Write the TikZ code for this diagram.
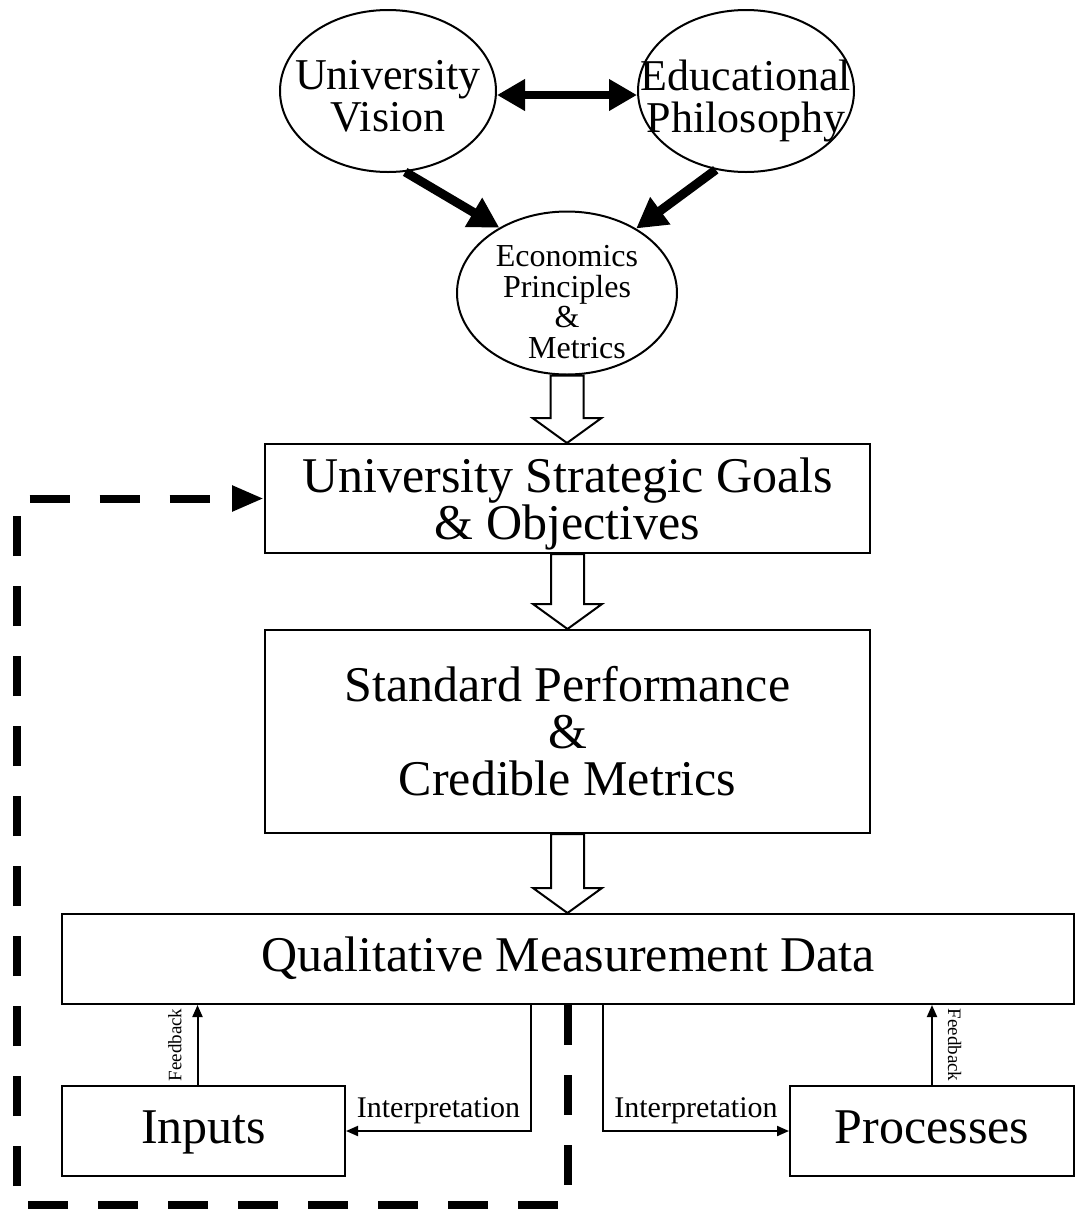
\documentclass[tikz,border=0pt]{standalone}
\usepackage{fontspec}
\setmainfont{Liberation Serif}
\usetikzlibrary{shapes.geometric,arrows.meta,calc}

\tikzset{
  bubble/.style={ellipse, draw, line width=1pt, minimum width=108pt, minimum height=81pt, inner sep=0pt},
  bubbletxt/.style={align=center, font=\fontsize{22}{21}\selectfont},
  stagebox/.style={draw, line width=1pt, align=center, inner sep=0pt, font=\fontsize{25}{23.5}\selectfont},
  bigarrow/.style={line width=4.5pt, -{Triangle[length=15pt,width=16pt]}},
  twoway/.style={line width=4pt, {Triangle[length=14pt,width=15pt]}-{Triangle[length=14pt,width=15pt]}},
  thinarrow/.style={line width=1pt, -{Triangle[length=6pt,width=5pt]}},
  looparrow/.style={line width=4pt, dash pattern=on 20pt off 15pt, -{Triangle[length=16pt,width=12pt]}},
  hollow/.style={draw, line width=1pt, fill=white},
  interp/.style={font=\fontsize{15}{15}\selectfont, inner sep=3pt},
  feedtxt/.style={font=\fontsize{9.5}{9.5}\selectfont, inner xsep=2pt, inner ysep=7.5pt, anchor=south}
}

% block arrow from a south anchor down to a north anchor
\newcommand\hollowarrow[2]{%
  \path[hollow] let \p1=(#1), \p2=(#2) in
    (\x1-8.25pt,\y1) -- (\x1-8.25pt,\y2+12.5pt) -- (\x1-17.25pt,\y2+12.5pt)
    -- (\x1,\y2) -- (\x1+17.25pt,\y2+12.5pt) -- (\x1+8.25pt,\y2+12.5pt)
    -- (\x1+8.25pt,\y1) -- cycle;}

\begin{document}
\begin{tikzpicture}[x=0.5pt, y=-0.5pt]
  \useasboundingbox (0,0) rectangle (1079,1211);

  % top circles
  \node[bubble, label={[bubbletxt, yshift=-2.5pt]center:{University\\Vision}}] (vision) at (388,91) {};
  \node[bubble, label={[bubbletxt, yshift=-5pt]center:{Educational\\Philosophy}}] (philo) at (746,91) {};
  \node[bubble, minimum width=110pt, minimum height=81.5pt,
        label={[bubbletxt, yshift=-4.5pt, font=\fontsize{16}{15.3}\selectfont]center:{Economics\\Principles\\\&\\\hspace*{10pt}Metrics}}] (econ) at (567,293) {};

  \draw[twoway] ([yshift=-2pt]vision.east) -- ([yshift=-2pt]philo.west);
  \draw[bigarrow] (vision.-78) -- (econ.136);
  \draw[bigarrow] (philo.-111) -- (econ.43);

  % stages
  \node[stagebox, minimum width=302.5pt, minimum height=54.5pt, text depth=0pt] (goals) at (567.5,498.5)
    {University Strategic Goals\\\& Objectives};
  \node[stagebox, minimum width=302.5pt, minimum height=101.5pt] (metrics) at (567.5,731.5)
    {Standard Performance\\\&\\Credible Metrics};
  \node[stagebox, minimum width=506pt, minimum height=45pt, text height=16pt, text depth=4pt] (data) at (568,959)
    {Qualitative Measurement Data};
  \node[stagebox, minimum width=141.5pt, minimum height=45pt, text height=16pt, text depth=4pt] (inputs) at (203.5,1131) {Inputs};
  \node[stagebox, minimum width=142pt, minimum height=45pt, text height=16pt, text depth=4pt] (processes) at (932,1131) {Processes};

  \foreach \a/\b in {econ/goals, goals/metrics, metrics/data}
    \hollowarrow{\a.south}{\b.north};

  % interpretation and feedback
  \draw[thinarrow] ([xshift=-18.5pt]data.south) |- node[pos=0.75, above, interp] {Interpretation} (inputs.east);
  \draw[thinarrow] ([xshift=17.5pt]data.south) |- node[pos=0.75, above, interp] {Interpretation} (processes.west);
  \draw[thinarrow] ([xshift=-3pt]inputs.north) -- ([xshift=-3pt]inputs.north |- data.south)
    node[midway, rotate=90, feedtxt] {Feedback};
  \draw[thinarrow] (processes.north) -- (processes.north |- data.south)
    node[midway, rotate=-90, feedtxt] {Feedback};

  % dashed loop back to the goals
  \coordinate (loopcorner) at (17,1205);
  \draw[looparrow] (data.south) |- (loopcorner) |- (goals.west);
\end{tikzpicture}
\end{document}
